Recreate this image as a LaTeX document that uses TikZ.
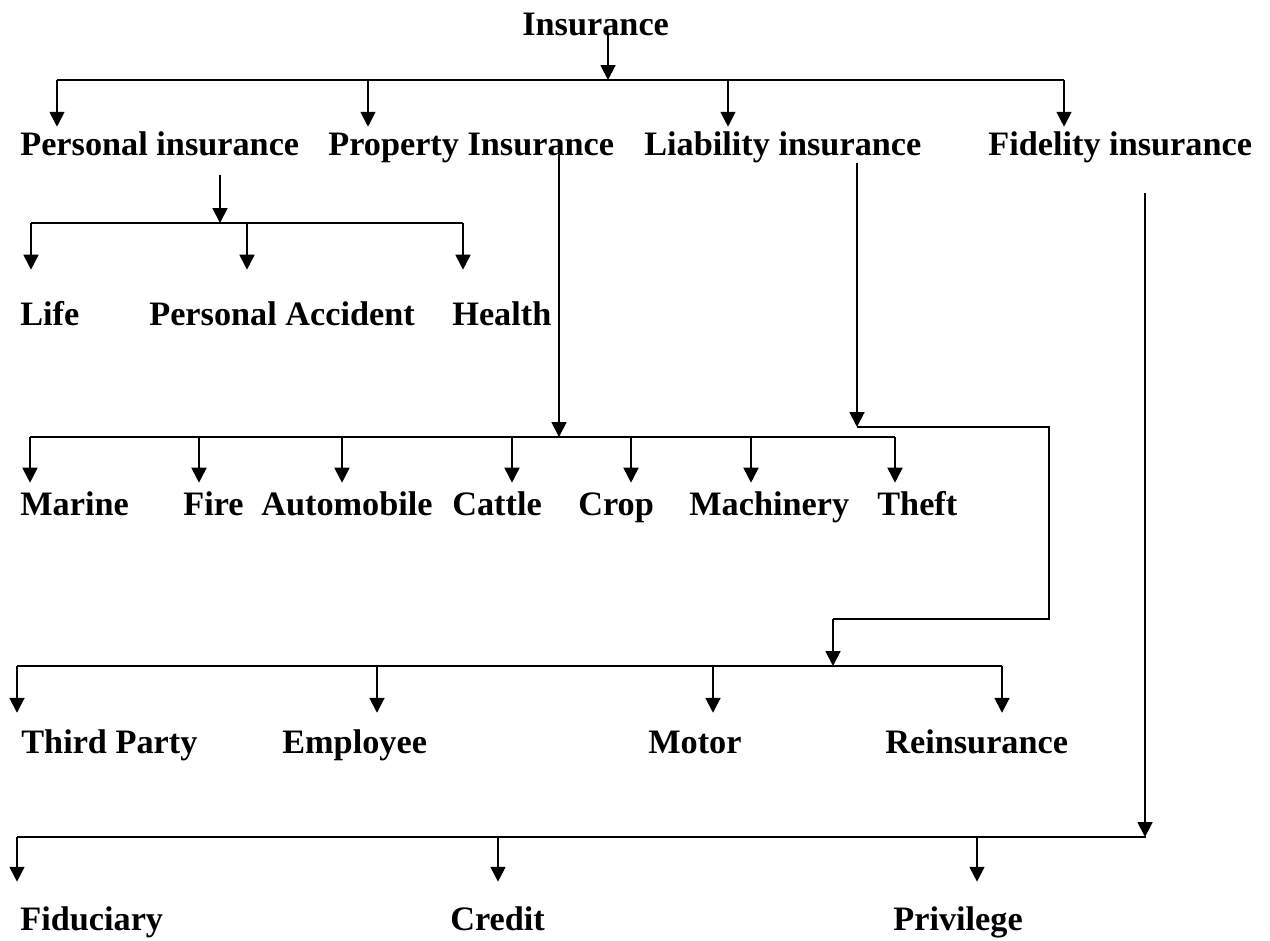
\documentclass[tikz,border=0pt]{standalone}
\usepackage{fontspec}
\setmainfont{Liberation Serif}
\usetikzlibrary{arrows.meta, calc}

\tikzset{
    lbl/.style={font=\fontsize{19.5}{23}\selectfont\bfseries, anchor=base west,
        inner sep=0pt, text height=13.3pt, text depth=4.3pt},
    link/.style={line width=1.1pt},
    arr/.style={link, -{Triangle[width=8.5pt, length=8.5pt]}}
}

\begin{document}
\begin{tikzpicture}[x=0.02cm, y=-0.02cm]
    \useasboundingbox (0,0) rectangle (1270,940);

    % Labels
    \node[lbl] (ins) at (522,35) {Insurance};
    \node[lbl] (pers) at (20,155) {Personal insurance};
    \node[lbl] (prop) at (328,155) {Property Insurance};
    \node[lbl] (liab) at (644,155) {Liability insurance};
    \node[lbl] (fid) at (988,155) {Fidelity insurance};

    \node[lbl] (life) at (20,325) {Life};
    \node[lbl] (acc) at (149,325) {Personal Accident};
    \node[lbl] (health) at (452,325) {Health};

    \node[lbl] (marine) at (20,515) {Marine};
    \node[lbl] (fire) at (183,515) {Fire};
    \node[lbl] (auto) at (261,515) {Automobile};
    \node[lbl] (cattle) at (452,515) {Cattle};
    \node[lbl] (crop) at (578,515) {Crop};
    \node[lbl] (mach) at (689,515) {Machinery};
    \node[lbl] (theft) at (877,515) {Theft};

    \node[lbl] (third) at (21,753) {Third Party};
    \node[lbl] (empl) at (282,753) {Employee};
    \node[lbl] (motor) at (648,753) {Motor};
    \node[lbl] (reins) at (885,753) {Reinsurance};

    \node[lbl] (fidu) at (20,930) {Fiduciary};
    \node[lbl] (credit) at (450,930) {Credit};
    \node[lbl] (priv) at (893,930) {Privilege};

    % Insurance
    \coordinate (bus0) at (608,80);
    \draw[arr] (608,0 |- ins.base) -- (bus0);
    \draw[link] (57,80) -- (1064,80);
    \foreach \n/\x in {pers/57, prop/368, liab/728, fid/1064} {
        \draw[arr, shorten >=2.6pt] (\x,80) -- (\x,0 |- \n.north);
    }

    % Personal insurance
    \coordinate (bus1) at (220,223);
    \draw[arr] ($(220,0 |- pers.south)+(0,12)$) -- (bus1);
    \draw[link] (31,223) -- (463,223);
    \foreach \n/\x in {life/31, acc/247, health/463} {
        \draw[arr, shorten >=18pt] (\x,223) -- (\x,0 |- \n.north);
    }

    % Property insurance
    \coordinate (bus2) at (559,437);
    \draw[arr] (559,0 |- prop.base) -- (bus2);
    \draw[link] (30,437) -- (895,437);
    \foreach \n/\x in {marine/30, fire/199, auto/342, cattle/512, crop/631, mach/751, theft/895} {
        \draw[arr, shorten >=4.9pt] (\x,437) -- (\x,0 |- \n.north);
    }

    % Liability insurance
    \coordinate (lbend) at (857,427);
    \coordinate (bus3) at (833,666);
    \draw[arr] (857,0 |- liab.south) -- (lbend);
    \draw[link] (lbend) -- (1049,427) -- (1049,619) -- (833,619);
    \draw[arr] (833,619) -- (bus3);
    \draw[link] (17,666) -- (1002,666);
    \foreach \n/\x in {third/17, empl/377, motor/713, reins/1002} {
        \draw[arr, shorten >=9.4pt] (\x,666) -- (\x,0 |- \n.north);
    }

    % Fidelity insurance
    \coordinate (bus4) at (1145,837);
    \draw[arr] ($(1145,0 |- fid.south)+(0,30)$) -- (bus4);
    \draw[link] (17,837) -- (1146,837);
    \foreach \n/\x in {fidu/17, credit/498, priv/977} {
        \draw[arr, shorten >=14pt] (\x,837) -- (\x,0 |- \n.north);
    }
\end{tikzpicture}
\end{document}
